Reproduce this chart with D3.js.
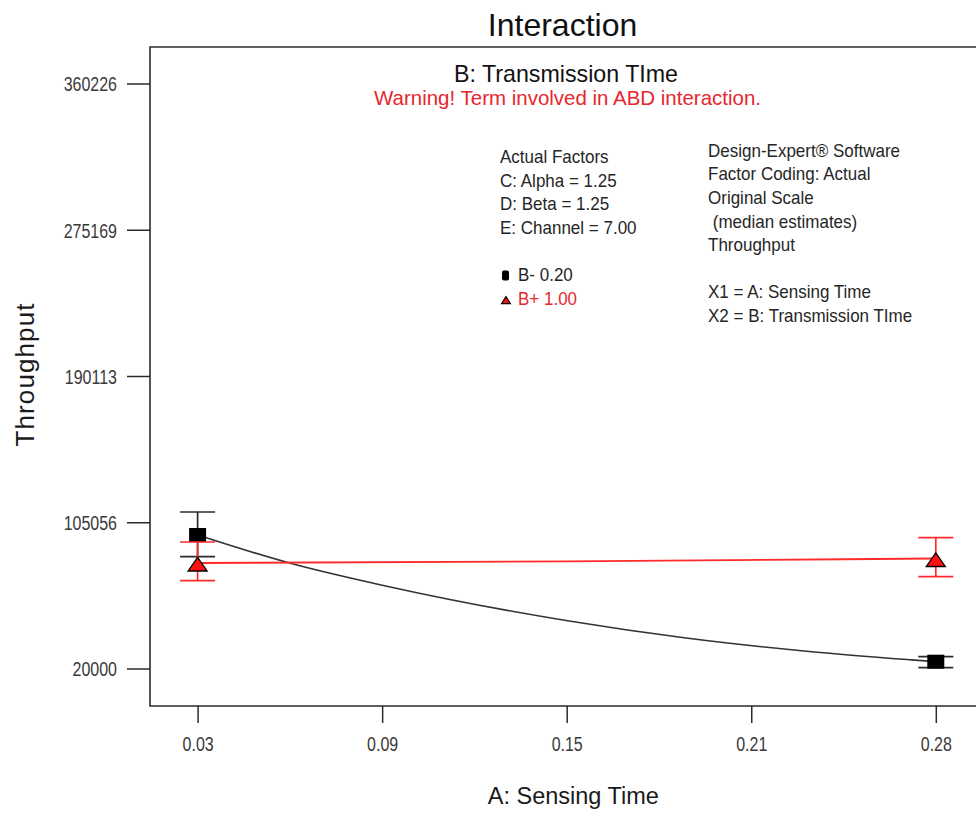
<!DOCTYPE html>
<html>
<head>
<meta charset="utf-8">
<script src="https://cdn.jsdelivr.net/npm/d3@7"></script>
<style>
  html, body { margin: 0; padding: 0; background: #fff; }
  svg { display: block; font-family: "Liberation Sans", Arial, sans-serif; }
</style>
</head>
<body>
<svg id="chart" width="976" height="814"></svg>
<script>
// Levels of A: Sensing Time where the B levels are evaluated
const levelsA = [0.025, 0.275];

// B- (Transmission Time = 0.20): predicted throughput with interval bounds
const bLowMean  = [97644, 23955];
const bLowLower = [85023, 20465];
const bLowUpper = [111020, 26863];

// B+ (Transmission Time = 1.00)
const bHighMean  = [81359, 83976];
const bHighLower = [71064, 73391];
const bHighUpper = [93572, 96073];

// Model prediction traces across A
const traceLowA  = [0.025, 0.0561, 0.0883, 0.1508, 0.1904, 0.2330, 0.2669, 0.275];
const traceLow   = [97644, 81359, 68156, 47626, 37739, 29771, 25000, 23955];
const traceHighA = [0.025, 0.15, 0.275];
const traceHigh  = [81359, 82350, 83976];

// Axis ticks
const xTickValues = [0.025, 0.0875, 0.15, 0.2125, 0.275];
const xTickLabels = ["0.03", "0.09", "0.15", "0.21", "0.28"];
const yTickValues = [20000, 105056.5, 190113, 275169.5, 360226];
const yTickLabels = ["20000", "105056", "190113", "275169", "360226"];

// Annotation text
const factorLines = ["Actual Factors", "C: Alpha = 1.25", "D: Beta = 1.25", "E: Channel = 7.00"];
const infoLines = ["Design-Expert\u00AE Software", "Factor Coding: Actual", "Original Scale",
                   " (median estimates)", "Throughput", "", "X1 = A: Sensing Time",
                   "X2 = B: Transmission TIme"];
const legendLabels = ["B- 0.20", "B+ 1.00"];

const FONT = "'Liberation Sans', Arial, sans-serif";
const INK = "#2b2b2b";
const RED = "#ff2a2a";
const RED_TEXT = "#e8262d";

const svg = d3.select("#chart");
svg.append("rect").attr("width", 976).attr("height", 814).attr("fill", "#fff");

const plotLeft = 150, plotTop = 47, plotBottom = 706, plotRight = 1000;
const x = d3.scaleLinear().domain([0.025, 0.275]).range([197.6, 935.8]);
const y = d3.scaleLinear().domain([20000, 360226]).range([668.5, 83.5]);

// Text helper: anchored at (px, py) baseline, optional vertical stretch
function label(parent, str, px, py, o = {}) {
  const g = parent.append("g")
    .attr("transform", `translate(${px},${py}) scale(1,${o.sy || 1})`);
  const t = g.append("text")
    .attr("x", 0).attr("y", 0)
    .attr("font-family", FONT)
    .attr("font-size", o.size || 17)
    .attr("fill", o.fill || "#262626")
    .attr("text-anchor", o.anchor || "start")
    .style("white-space", "pre")
    .text(str);
  if (o.len) t.attr("textLength", o.len).attr("lengthAdjust", o.adjust || "spacingAndGlyphs");
  return g;
}

// Plot frame (right side runs past the page edge)
svg.append("path")
  .attr("d", `M${plotRight},${plotTop}H${plotLeft}V${plotBottom}H${plotRight}`)
  .attr("fill", "none").attr("stroke", INK).attr("stroke-width", 1.6);

// Y axis
const gy = svg.append("g").attr("transform", `translate(${plotLeft},0)`)
  .call(d3.axisLeft(y).tickValues(yTickValues)
    .tickFormat((d, i) => yTickLabels[i]).tickSize(23).tickPadding(10));
gy.select(".domain").remove();
gy.selectAll(".tick line").attr("stroke", INK).attr("stroke-width", 1.5);
gy.selectAll(".tick text")
  .attr("font-family", FONT).attr("font-size", 16).attr("fill", "#3a3a3a")
  .attr("dy", null).attr("y", 5.6).attr("transform", "scale(1,1.31)");

// X axis
const gx = svg.append("g").attr("transform", `translate(0,${plotBottom})`)
  .call(d3.axisBottom(x).tickValues(xTickValues)
    .tickFormat((d, i) => xTickLabels[i]).tickSize(17));
gx.select(".domain").remove();
gx.selectAll(".tick line").attr("stroke", INK).attr("stroke-width", 1.5);
gx.selectAll(".tick text")
  .attr("font-family", FONT).attr("font-size", 16).attr("fill", "#3a3a3a")
  .attr("dy", null).attr("y", 34.5).attr("transform", "scale(1,1.31)");

// Interval bars
function errorBars(mean, lower, upper, color) {
  const g = svg.append("g").attr("stroke", color).attr("stroke-width", 1.7).attr("fill", "none");
  levelsA.forEach((a, i) => {
    const cx = x(a);
    g.append("line").attr("x1", cx).attr("x2", cx).attr("y1", y(upper[i])).attr("y2", y(lower[i]));
    [upper[i], lower[i]].forEach(v => {
      g.append("line").attr("x1", cx - 17.5).attr("x2", cx + 17.5).attr("y1", y(v)).attr("y2", y(v));
    });
  });
}

function trace(xs, vs, color, width) {
  svg.append("path")
    .datum(xs.map((a, i) => [a, vs[i]]))
    .attr("fill", "none").attr("stroke", color).attr("stroke-width", width)
    .attr("d", d3.line().x(d => x(d[0])).y(d => y(d[1])).curve(d3.curveMonotoneX));
}

// B- series
errorBars(bLowMean, bLowLower, bLowUpper, INK);
trace(traceLowA, traceLow, "#333", 1.6);
svg.append("g").selectAll("rect").data(levelsA).join("rect")
  .attr("x", d => x(d) - 8.5).attr("y", (d, i) => y(bLowMean[i]) - 7)
  .attr("width", 17).attr("height", 14).attr("fill", "#000");

// B+ series
errorBars(bHighMean, bHighLower, bHighUpper, RED);
trace(traceHighA, traceHigh, RED, 1.8);
svg.append("g").selectAll("path").data(levelsA).join("path")
  .attr("d", (d, i) => {
    const cx = x(d), cy = y(bHighMean[i]);
    return `M${cx},${cy - 5.5}L${cx + 9.5},${cy + 8}L${cx - 9.5},${cy + 8}Z`;
  })
  .attr("fill", "#ff1010").attr("stroke", "#000").attr("stroke-width", 1.3)
  .attr("stroke-linejoin", "miter");

// Titles
label(svg, "Interaction", 562.5, 36, { size: 32, fill: "#111", anchor: "middle" });
label(svg, "B: Transmission TIme", 566, 82, { size: 24, fill: "#111", anchor: "middle", len: 224 });
label(svg, "Warning! Term involved in ABD interaction.", 567.5, 105,
      { size: 21, fill: RED_TEXT, anchor: "middle", len: 387 });
label(svg, "A: Sensing Time", 573.3, 804, { size: 23.5, fill: "#1a1a1a", anchor: "middle" });
svg.append("text")
  .attr("transform", "translate(34,375) rotate(-90)")
  .attr("font-family", FONT).attr("font-size", 26).attr("fill", "#1a1a1a")
  .attr("text-anchor", "middle")
  .attr("textLength", 143).attr("lengthAdjust", "spacing")
  .text("Throughput");

// Actual factors block
const lineStep = 23.6;
factorLines.forEach((s, i) => label(svg, s, 500, 163 + i * lineStep, { size: 17, sy: 1.08 }));

// Legend entries
const legY = [163 + 5 * lineStep, 163 + 6 * lineStep];
svg.append("rect").attr("x", 502).attr("y", legY[0] - 10.5).attr("width", 7).attr("height", 10)
  .attr("rx", 2).attr("fill", "#000");
svg.append("path")
  .attr("d", `M506,${legY[1] - 8}L510.5,${legY[1] - 1}L501.5,${legY[1] - 1}Z`)
  .attr("fill", "#ff1010").attr("stroke", "#000").attr("stroke-width", 1.1);
label(svg, legendLabels[0], 518, legY[0], { size: 17, sy: 1.08 });
label(svg, legendLabels[1], 518, legY[1], { size: 17, sy: 1.08, fill: RED_TEXT });

// Software / response block
infoLines.forEach((s, i) => {
  if (s) label(svg, s, 708, 156.7 + i * lineStep, { size: 17, sy: 1.08 });
});
</script>
</body>
</html>
